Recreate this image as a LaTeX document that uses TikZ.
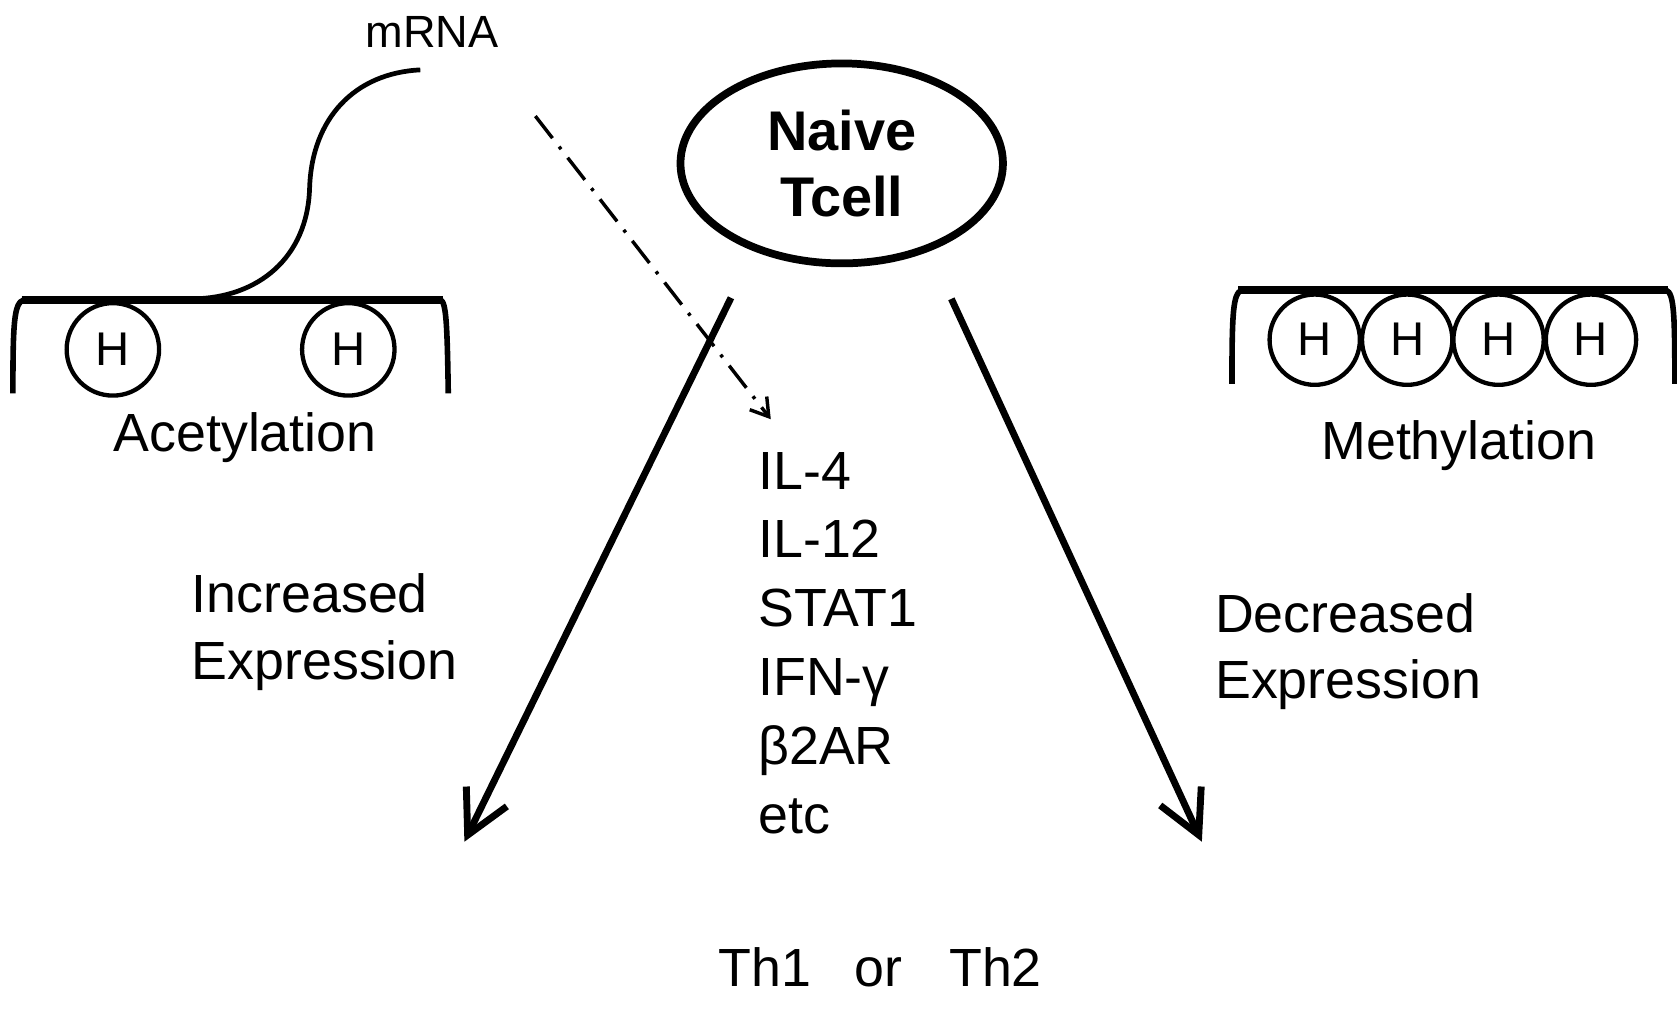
\documentclass[tikz,border=0pt]{standalone}
\usepackage{fontspec}
\setmainfont{Liberation Sans}
\usetikzlibrary{arrows.meta,shapes.geometric}

\begin{document}
\begin{tikzpicture}[x=0.5pt,y=-0.5pt,
    hist/.style={circle, draw, line width=2pt, minimum size=42pt, inner sep=0pt, font=\fontsize{22}{22}\selectfont},
    lbl/.style={inner sep=0pt, font=\fontsize{25}{31}\selectfont},
    bigarrow/.style={line width=3.2pt, -{Straight Barb[length=20pt,width=21pt]}}]
            \useasboundingbox (0,0) rectangle (1560,940);

            % acetylation side
            \draw[line width=2.6pt] (12,366) .. controls (12,300) and (13,282) .. (22,279) -- (410,279) .. controls (415,282) and (416,300) .. (417,366);
            \draw[line width=3.6pt] (20,279) -- (412,279);
            \node[hist, minimum size=43pt] (h1) at (105,325) {H};
            \node[hist, minimum size=43pt] (h2) at (324,325) {H};
            \draw[line width=2.2pt] (391,65) .. controls (330,68) and (290,110) .. (288,175) .. controls (286,240) and (240,277) .. (180,278);
            \node[lbl, font=\fontsize{21}{21}\selectfont, anchor=base] (mrna) at (402,44) {mRNA};
            \node[lbl, anchor=base] (acet) at (228,420) {Acetylation};

            % methylation side
            \draw[line width=2.6pt] (1146,357) .. controls (1146,290) and (1147,273) .. (1155,270) -- (1550,270) .. controls (1557,273) and (1558,290) .. (1558,357);
            \draw[line width=3.6pt] (1152,270) -- (1552,270);
            \foreach \x [count=\i] in {1223,1309,1394,1480}
                \node[hist] (m\i) at (\x,316) {H};
            \node[lbl, anchor=base] (meth) at (1357,427) {Methylation};

            % cell and arrows
            \node[ellipse, draw, line width=3.6pt, minimum width=150pt, minimum height=93pt, align=center, font=\bfseries\fontsize{26}{31}\selectfont] (naive) at (783,152) {Naive\\Tcell};

            \coordinate (dstart) at (498,108);
            \coordinate (dend) at (717,390);
            \draw[line width=1.6pt, dash pattern=on 13pt off 5pt on 1.5pt off 5pt, -{Straight Barb[length=8pt,width=10pt]}] (dstart) -- (dend);

            \coordinate (lstart) at (680,277);
            \coordinate (lend) at (432,783);
            \coordinate (rstart) at (885,278);
            \coordinate (rend) at (1118,783);
            \draw[bigarrow] (lstart) -- (lend);
            \draw[bigarrow] (rstart) -- (rend);

            \node[lbl, align=left, anchor=base west, font=\fontsize{25}{32}\selectfont] (genes) at (705,775) {IL-4\\IL-12\\STAT1\\IFN-γ\\β2AR\\etc};
            \node[lbl, align=left, anchor=base west] (incr) at (178,632) {Increased\\Expression};
            \node[lbl, align=left, anchor=base west] (decr) at (1130,650) {Decreased\\Expression};
            \node[lbl, anchor=base west] (th) at (668,918) {Th1\hspace{20pt}or\hspace{22pt}Th2};
        \end{tikzpicture}
\end{document}
